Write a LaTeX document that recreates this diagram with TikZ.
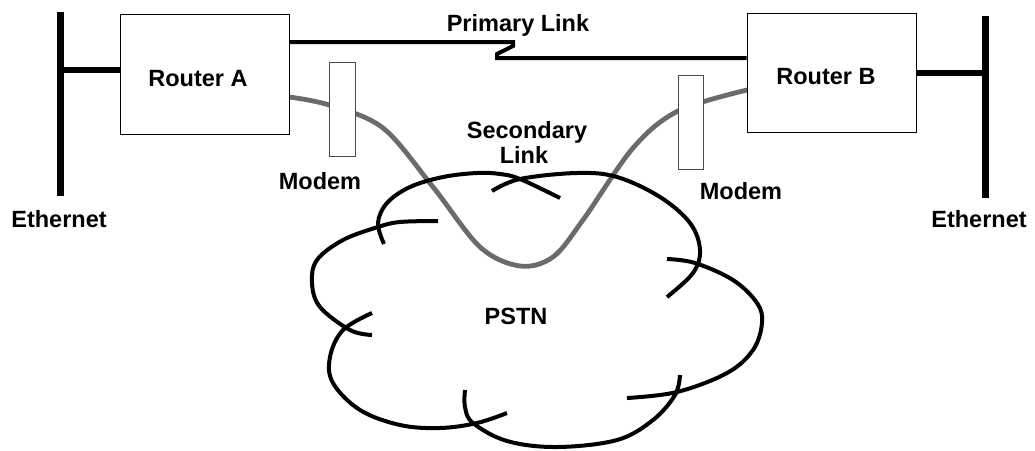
\documentclass[tikz,border=0pt]{standalone}
\usepackage{fontspec}
\setmainfont{Liberation Sans}
\begin{document}
\begin{tikzpicture}[x=1pt,y=-1pt,
  lbl/.style={font=\fontsize{23.5}{28}\selectfont\bfseries, anchor=base, inner sep=0pt},
  router/.style={draw=black, line width=1pt, fill=white, minimum width=169pt, minimum height=120pt, inner sep=0pt},
  modem/.style={draw=black!70, line width=1pt, fill=white, minimum width=26pt, minimum height=94pt, inner sep=0pt},
  bus/.style={line width=7pt, black},
  tap/.style={line width=6pt, black},
  wan/.style={line width=4pt, black, line join=miter},
  pstnline/.style={line width=4.8pt, color=black!58, line cap=round},
  cloudarc/.style={line width=4pt, black}
]
\useasboundingbox (0,0) rectangle (1035,450);

% Secondary link (drawn first, modems cover it)
\coordinate (sA) at (289,97);
\coordinate (sB) at (747,90);
\draw[pstnline] plot[smooth, tension=0.55] coordinates {(sA) (329,105) (383,128) (433,187) (480,247) (520,266) (553,257) (583,220) (633,148) (678,111) (sB)};

% Routers
\node[router] (ra) at (204.5,74) {};
\node[router, minimum height=119pt] (rb) at (831.5,72.5) {};
\node[lbl] (ral) at (198,86) {Router A};
\node[lbl] (rbl) at (826,84) {Router B};

% Modems
\node[modem] (ma) at (342,109) {};
\node[modem, minimum width=25pt] (mb) at (690.5,122) {};

% Ethernet buses
\coordinate (ethAtop) at (60,12);
\coordinate (ethAbot) at (60,196);
\coordinate (ethAjoin) at (60,70);
\draw[bus] (ethAtop) -- (ethAbot);
\draw[tap] (ethAjoin) -- (ethAjoin -| ra.west);
\coordinate (ethBtop) at (985,16);
\coordinate (ethBbot) at (985,198);
\coordinate (ethBjoin) at (985,73);
\draw[bus] (ethBtop) -- (ethBbot);
\draw[tap] (ethBjoin) -- (ethBjoin -| rb.east);

% Primary link with zigzag
\coordinate (zigA) at (513,42);
\coordinate (zigB) at (497,58);
\draw[wan] (zigA -| ra.east) -- (zigA) -- ++(0,4) -- (497,54) -- (zigB) -- (zigB -| rb.west);

% Cloud
\draw[cloudarc] plot[smooth, tension=0.6] coordinates {(384,244) (378,223) (387,203) (410,187) (443,177) (477,173) (500,174) (520,179) (560,198)};
\draw[cloudarc] plot[smooth, tension=0.6] coordinates {(492,191) (520,179) (577,173) (617,177) (660,197) (690,223) (700,250) (693,273) (667,297)};
\draw[cloudarc] plot[smooth, tension=0.6] coordinates {(667,259) (695,263) (733,280) (757,303) (762,323) (753,350) (727,373) (677,392) (627,398)};
\draw[cloudarc] plot[smooth, tension=0.6] coordinates {(680,375) (675,395) (653,420) (617,440) (557,447) (507,441) (473,423) (465,407) (465,390)};
\draw[cloudarc] plot[smooth, tension=0.6] coordinates {(507,413) (477,423) (440,428) (400,425) (360,410) (333,383) (330,357) (343,330) (372,313)};
\draw[cloudarc] plot[smooth, tension=0.6] coordinates {(372,335) (350,330) (320,307) (312,283) (317,260) (343,240) (378,227) (400,222) (438,221)};

% Labels
\node[lbl] (plink) at (518,31) {Primary Link};
\node[lbl] (slink1) at (527,138) {Secondary};
\node[lbl] (slink2) at (524,163) {Link};
\node[lbl] (mal) at (320,189) {Modem};
\node[lbl] (mbl) at (741,199) {Modem};
\node[lbl] (ethAl) at (59,227) {Ethernet};
\node[lbl] (ethBl) at (979,227) {Ethernet};
\node[lbl] (pstn) at (516,324) {PSTN};
\end{tikzpicture}
\end{document}
